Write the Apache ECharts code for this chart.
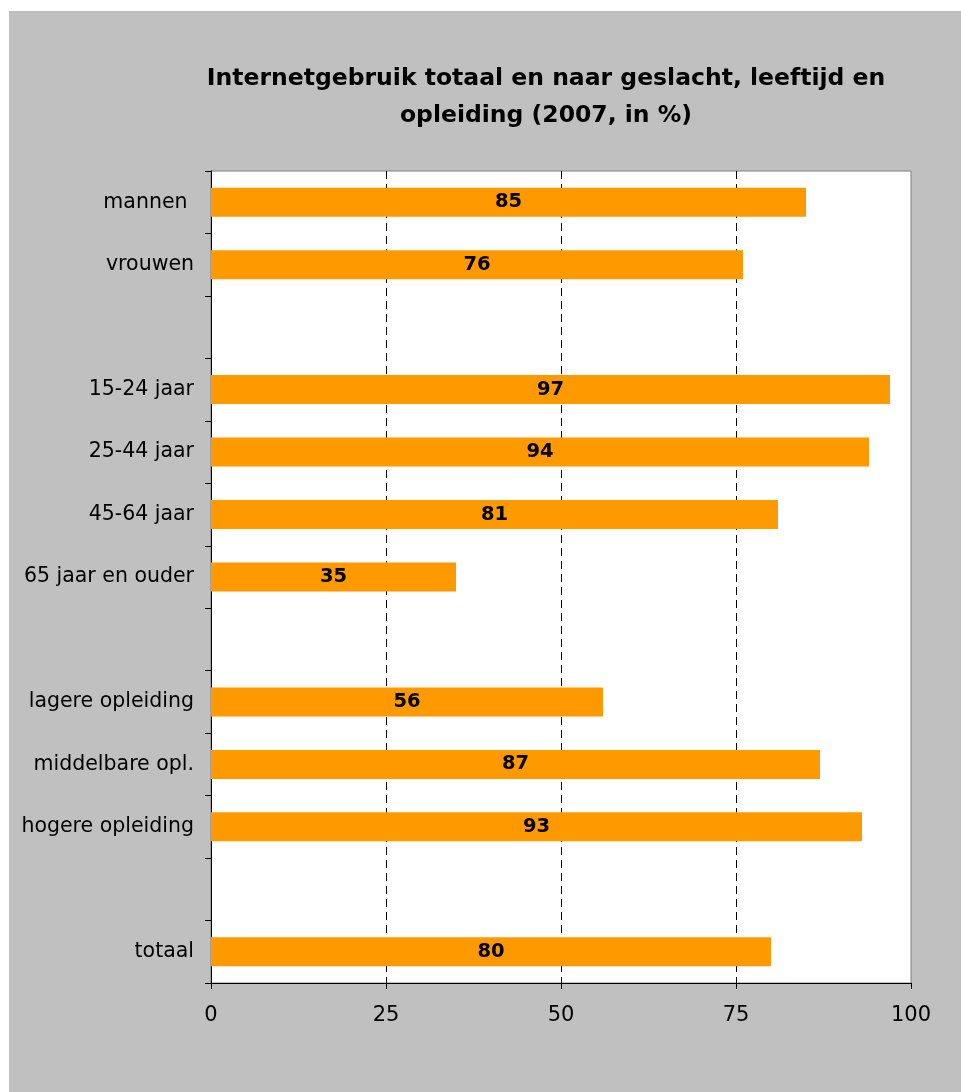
<!DOCTYPE html>
<html>
<head>
<meta charset="utf-8">
<script src="https://cdn.jsdelivr.net/npm/echarts@6/dist/echarts.min.js"></script>
<style>
  html, body { margin: 0; padding: 0; background: #fff; }
  #chart { width: 961px; height: 1092px; }
</style>
</head>
<body>
<div id="chart"></div>
<script>
var categories = ['mannen ', 'vrouwen', '', '15-24 jaar', '25-44 jaar', '45-64 jaar', '65 jaar en ouder', '',
  'lagere opleiding', 'middelbare opl.', 'hogere opleiding', '', 'totaal'];
var values = [85, 76, '-', 97, 94, 81, 35, '-', 56, 87, 93, '-', 80];
var xTicks = [0, 25, 50, 75, 100];

var font = 'DejaVu Sans, Verdana, sans-serif';

var option = {
  animation: false,
  backgroundColor: '#ffffff',
  graphic: [{
    type: 'rect',
    z: -10,
    shape: { x: 9, y: 11, width: 952, height: 1081 },
    style: { fill: '#c0c0c0' }
  }],
  title: {
    text: 'Internetgebruik totaal en naar geslacht, leeftijd en\nopleiding (2007, in %)',
    left: 546,
    top: 60,
    padding: 0,
    textAlign: 'center',
    textStyle: {
      fontFamily: font,
      fontSize: 23.5,
      fontWeight: 'bold',
      color: '#000',
      lineHeight: 37
    }
  },
  grid: {
    left: 211,
    top: 171,
    right: 50,
    bottom: 109,
    show: true,
    backgroundColor: '#ffffff',
    borderColor: '#808080',
    borderWidth: 1
  },
  xAxis: {
    type: 'value',
    min: xTicks[0],
    max: xTicks[xTicks.length - 1],
    interval: 25,
    axisLine: { show: true, lineStyle: { color: '#000', width: 1 } },
    axisTick: { show: true, length: 6, lineStyle: { color: '#000' } },
    axisLabel: { fontFamily: font, fontSize: 21, color: '#000', margin: 22 },
    splitLine: {
      show: true,
      showMinLine: false,
      showMaxLine: false,
      lineStyle: { color: '#000', type: [8, 5], width: 1 }
    }
  },
  yAxis: {
    type: 'category',
    data: categories,
    inverse: true,
    axisLine: { show: true, lineStyle: { color: '#000', width: 1 } },
    axisTick: { show: true, length: 6, lineStyle: { color: '#000' } },
    axisLabel: { fontFamily: font, fontSize: 20.5, color: '#000', margin: 17 }
  },
  series: [{
    type: 'bar',
    data: values,
    barWidth: 29,
    itemStyle: { color: '#ff9900' },
    label: {
      show: true,
      position: 'inside',
      fontFamily: font,
      fontSize: 19.5,
      fontWeight: 'bold',
      color: '#000'
    }
  }]
};

var myChart = echarts.init(document.getElementById('chart'));
myChart.setOption(option);
</script>
</body>
</html>
